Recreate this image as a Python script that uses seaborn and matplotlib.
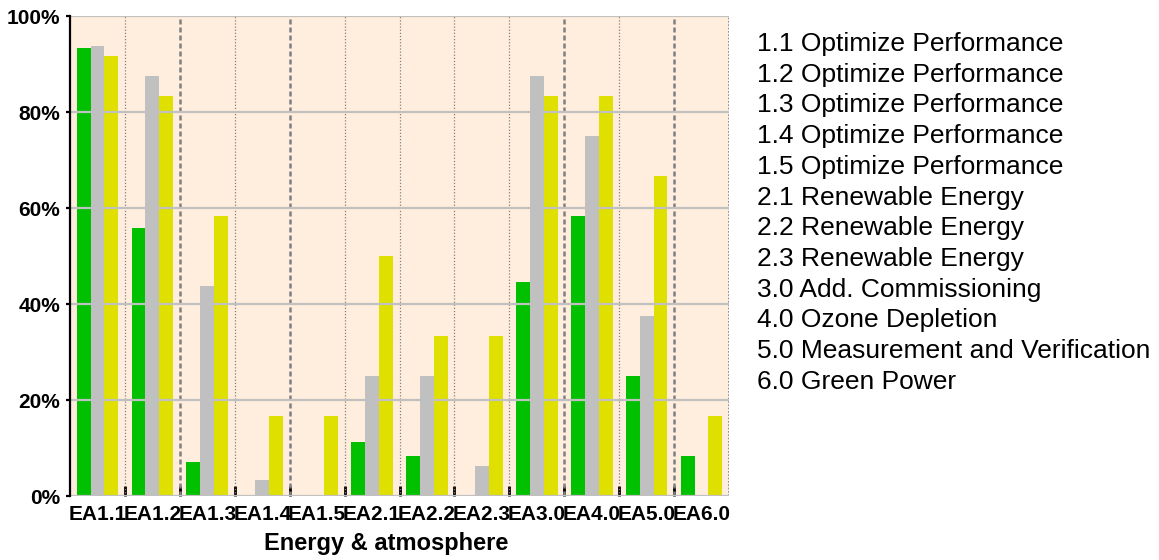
"""Energy & atmosphere credit achievement chart -> out.png"""

import numpy as np
import pandas as pd
import matplotlib
matplotlib.use("Agg")
import matplotlib.pyplot as plt
import matplotlib.ticker as mticker
import seaborn as sns

CATEGORIES = ["EA1.1", "EA1.2", "EA1.3", "EA1.4", "EA1.5", "EA2.1",
              "EA2.2", "EA2.3", "EA3.0", "EA4.0", "EA5.0", "EA6.0"]
SERIES = ["A", "B", "C"]
GREEN  = [93.3, 55.8, 7.1, 0.0, 0.0, 11.25, 8.3, 0.0, 44.6, 58.3, 25.0, 8.3]
GRAY   = [93.75, 87.5, 43.75, 3.3, 0.0, 25.0, 25.0, 6.25, 87.5, 75.0, 37.5, 0.0]
YELLOW = [91.7, 83.3, 58.3, 16.7, 16.7, 50.0, 33.3, 33.3, 83.3, 83.3, 66.7, 16.7]
DESCRIPTIONS = [
    "1.1 Optimize Performance",
    "1.2 Optimize Performance",
    "1.3 Optimize Performance",
    "1.4 Optimize Performance",
    "1.5 Optimize Performance",
    "2.1 Renewable Energy",
    "2.2 Renewable Energy",
    "2.3 Renewable Energy",
    "3.0 Add. Commissioning",
    "4.0 Ozone Depletion",
    "5.0 Measurement and Verification",
    "6.0 Green Power",
]
X_LABEL = "Energy & atmosphere"
Y_TICKS = [0, 20, 40, 60, 80, 100]

COLORS  = ["#00C000", "#C0C0C0", "#E0E000"]
BG      = "#FFEEDD"
GRID    = "#C0C0C0"
SEP     = "#808080"
THICK_SEPS = [1.5, 3.5, 8.5, 10.5]

df = pd.DataFrame({
    "cat": np.repeat(CATEGORIES, len(SERIES)),
    "series": SERIES * len(CATEGORIES),
    "val": np.column_stack([GREEN, GRAY, YELLOW]).ravel(),
})

sns.set_style("white")
plt.rcParams["font.family"] = ["Liberation Sans", "DejaVu Sans"]
plt.rcParams["text.color"] = "black"
plt.rcParams["xtick.color"] = "black"
plt.rcParams["ytick.color"] = "black"
plt.rcParams["axes.labelcolor"] = "black"

fig = plt.figure(figsize=(11.59, 5.6), dpi=100)
ax = fig.add_axes([70 / 1159, 1 - 496 / 560, 659 / 1159, 480 / 560])
ax.set_facecolor(BG)

sns.barplot(data=df, x="cat", y="val", hue="series", order=CATEGORIES,
            hue_order=SERIES, palette=COLORS, width=0.76, saturation=1,
            linewidth=0, edgecolor="none", ax=ax, legend=False, zorder=2)

ax.set_xlim(-0.5, len(CATEGORIES) - 0.5)
ax.set_ylim(0, 100)

# horizontal grid on top of bars
for y in Y_TICKS:
    ax.axhline(y, color=GRID, lw=1.6, zorder=3)

# group separators
for k in range(len(CATEGORIES) - 1):
    b = k + 0.5
    if b in THICK_SEPS:
        ax.axvline(b, color=SEP, lw=1.8, ls=(0, (2.0, 1.2)), zorder=1)
    else:
        ax.axvline(b, color=SEP, lw=0.9, ls=(0, (1, 1.5)), zorder=1)
ax.axvline(len(CATEGORIES) - 0.5, color=SEP, lw=1.2, ls=(0, (1, 1)), zorder=1)

for s in ["top", "right", "bottom"]:
    ax.spines[s].set_visible(False)
ax.spines["left"].set_color("black")
ax.spines["left"].set_linewidth(1.6)
ax.spines["left"].set_zorder(4)

ax.set_yticks(Y_TICKS)
ax.yaxis.set_major_formatter(mticker.FuncFormatter(lambda v, p: f"{v:.0f}%"))
ax.tick_params(axis="y", which="major", left=True, length=3, width=1.6,
               color="black", pad=4, labelsize=15, labelcolor="black")
for lab in ax.get_yticklabels():
    lab.set_fontweight("bold")

ax.set_xticks(range(len(CATEGORIES)))
ax.set_xticklabels(CATEGORIES, fontsize=15, fontweight="bold", color="black")
ax.tick_params(axis="x", which="major", bottom=False, pad=3)
ax.set_xticks([k + 0.5 for k in range(len(CATEGORIES) - 1)], minor=True)
ax.tick_params(axis="x", which="minor", bottom=True, direction="in",
               length=7, width=2, color="black")

ax.set_xlabel(X_LABEL, fontsize=17, fontweight="bold", color="black")
ax.xaxis.set_label_coords(316 / 659, -36 / 480)
ax.set_ylabel("")

# category description list on the right
for i, txt in enumerate(DESCRIPTIONS):
    fig.text(757 / 1159, 1 - (44 + i * 30.7) / 560, txt, fontsize=19,
             va="center", ha="left", color="black")

fig.savefig("out.png", dpi=100)
plt.close(fig)
